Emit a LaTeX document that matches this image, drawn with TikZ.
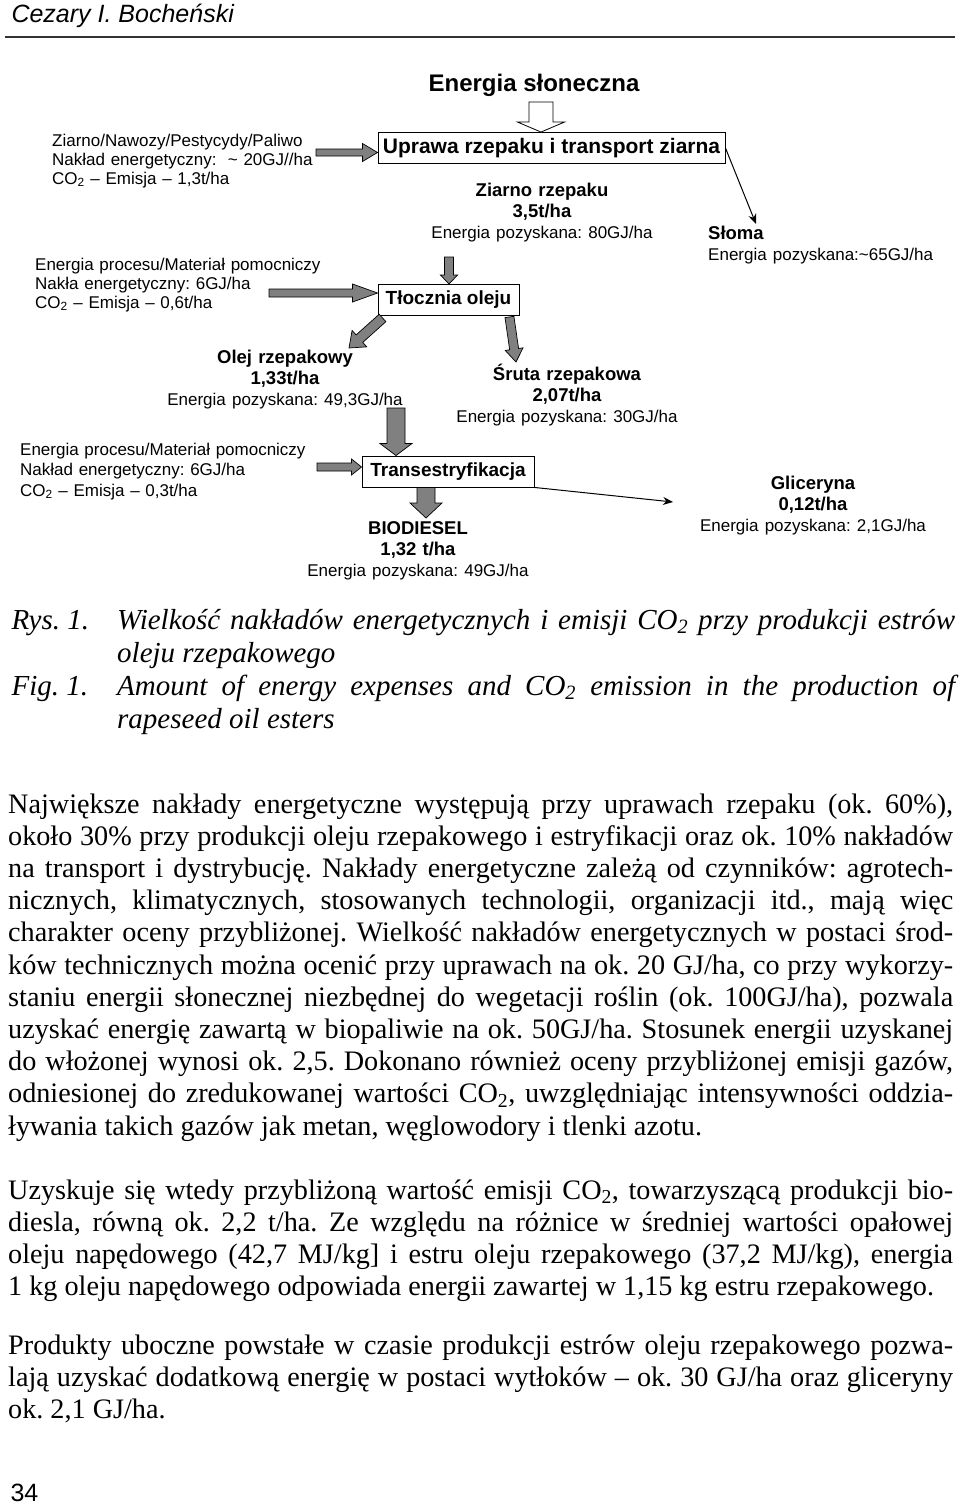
\documentclass[tikz,border=0pt]{standalone}
\usepackage{fontspec}
\setmainfont{Liberation Serif}
\newfontfamily\arial{Liberation Sans}
\usetikzlibrary{calc}
\usetikzlibrary{arrows.meta}
\frenchspacing

% grube strzalki: [styl]{od}{do}{pol szerokosci trzonu}{pol szerokosci grotu}{dlugosc grotu}
\newcommand{\fatarrow}[6][fatarr]{%
  \coordinate (fahead) at ($(#3)!#6!(#2)$);
  \filldraw[#1] ($(#2)!#4!90:(#3)$) -- ($(fahead)!#4!90:(#3)$) -- ($(fahead)!#5!90:(#3)$) -- (#3)
    -- ($(fahead)!#5!-90:(#3)$) -- ($(fahead)!#4!-90:(#3)$) -- ($(#2)!#4!-90:(#3)$) -- cycle;}
\newcommand{\zwykly}{\mdseries\fontsize{17}{21}\selectfont}

\tikzset{
  fatarr/.style={fill=gray, draw=black, line width=0.7pt},
  hollowarr/.style={fill=white, draw=black, line width=0.8pt},
  thinarr/.style={draw=black, line width=1pt, -{Stealth[length=10pt,width=8pt]}},
  skrzynka/.style={draw=black, line width=0.9pt, inner xsep=2pt, inner ysep=0pt, minimum height=31pt,
    font=\arial\bfseries\fontsize{19}{21}\selectfont},
  opis/.style={anchor=base west, align=left, text width=#1, inner sep=0pt, font=\arial\fontsize{17}{19}\selectfont},
  etykieta/.style={anchor=base, align=center, text width=#1, inner sep=0pt,
    font=\arial\bfseries\fontsize{18.5}{21}\selectfont},
  akapit/.style={anchor=base west, align=justify, text width=945pt, inner sep=0pt, font=\fontsize{28.2}{32.2}\selectfont},
  podpis/.style={anchor=base west, align=justify, text width=838pt, inner sep=0pt, font=\itshape\fontsize{29}{33}\selectfont},
}

\begin{document}
\begin{tikzpicture}[x=1pt,y=-1pt]
  \useasboundingbox (0,0) rectangle (960,1504);

  % naglowek strony
  \node[anchor=base west, font=\arial\itshape\fontsize{25}{25}\selectfont] (autor) at (8,23) {Cezary I. Bocheński};
  \draw[line width=1.3pt, black!80] (5,37) -- (955,37);

  % uprawa
  \node[anchor=base, font=\arial\bfseries\fontsize{24}{24}\selectfont] (slonce) at (534,91.6) {Energia słoneczna};
  \node[skrzynka, minimum width=347pt, font=\arial\bfseries\fontsize{21}{23}\selectfont] (uprawa) at (551.5,148) {Uprawa rzepaku i transport ziarna};
  \node[opis=300pt] (nakladA) at (52,146) {Ziarno/Nawozy/Pestycydy/Paliwo\\Nakład energetyczny:\ \ \textasciitilde{} 20GJ//ha\\CO\textsubscript{2} – Emisja – 1,3t/ha};
  \node[etykieta=260pt] (ziarno) at (542,196.6) {Ziarno rzepaku\\3,5t/ha\\{\zwykly Energia pozyskana: 80GJ/ha}};
  \node[etykieta=240pt, anchor=base west, align=left] (sloma) at (708,239.6) {Słoma\\{\zwykly Energia pozyskana:\textasciitilde65GJ/ha}};

  % tloczenie
  \node[skrzynka, minimum width=141pt] (tlocznia) at (448.5,300) {Tłocznia oleju};
  \node[opis=330pt] (nakladB) at (35,270) {Energia procesu/Materiał pomocniczy\\Nakła energetyczny: 6GJ/ha\\CO\textsubscript{2} – Emisja – 0,6t/ha};
  \node[etykieta=280pt] (olej) at (285,363.6) {Olej rzepakowy\\1,33t/ha\\{\zwykly Energia pozyskana: 49,3GJ/ha}};
  \node[etykieta=260pt] (sruta) at (567,380.6) {Śruta rzepakowa\\2,07t/ha\\{\zwykly Energia pozyskana: 30GJ/ha}};

  % estryfikacja
  \node[skrzynka, minimum width=172pt] (trans) at (448,471.5) {Transestryfikacja};
  \node[opis=330pt, font=\arial\fontsize{17}{20.5}\selectfont] (nakladC) at (20,455) {Energia procesu/Materiał pomocniczy\\Nakład energetyczny: 6GJ/ha\\CO\textsubscript{2} – Emisja – 0,3t/ha};
  \node[etykieta=260pt] (biodiesel) at (418,534.6) {BIODIESEL\\1,32 t/ha\\{\zwykly Energia pozyskana: 49GJ/ha}};
  \node[etykieta=260pt] (gliceryna) at (813,489.6) {Gliceryna\\0,12t/ha\\{\zwykly Energia pozyskana: 2,1GJ/ha}};

  % strzalki
  \coordinate (sunfoot) at (541,102);
  \fatarrow[hollowarr]{sunfoot}{sunfoot |- uprawa.north}{12pt}{23.5pt}{10pt}
  \coordinate (inA) at (316,152.5);
  \fatarrow{inA}{inA -| uprawa.west}{3.5pt}{9pt}{15pt}
  \coordinate (ziarnofoot) at (449,257);
  \fatarrow{ziarnofoot}{ziarnofoot |- tlocznia.north}{4.5pt}{8.5pt}{9pt}
  \coordinate (inB) at (269,293);
  \fatarrow{inB}{inB -| tlocznia.west}{4pt}{9pt}{25pt}
  \coordinate (tlA) at ($(tlocznia.south west)+(5,2)$);
  \coordinate (olejtip) at (349,348);
  \fatarrow{tlA}{olejtip}{5pt}{11pt}{14pt}
  \coordinate (tlB) at ($(tlocznia.south east)+(-10,1)$);
  \coordinate (srutatip) at (516,362);
  \fatarrow{tlB}{srutatip}{4.5pt}{9pt}{13pt}
  \coordinate (olejfoot) at (396,408);
  \fatarrow{olejfoot}{olejfoot |- trans.north}{9pt}{16pt}{12pt}
  \coordinate (inC) at (317,467);
  \fatarrow{inC}{inC -| trans.west}{4pt}{8pt}{10pt}
  \coordinate (biotip) at (426,518);
  \coordinate (transfoot) at (biotip |- trans.south);
  \fatarrow{transfoot}{biotip}{9pt}{16pt}{15pt}
  \coordinate (slomatip) at (756,224);
  \draw[thinarr] (uprawa.east) -- (slomatip);
  \coordinate (glictip) at (673,502);
  \draw[thinarr] (trans.south east) -- (glictip);

  % podpis rysunku
  \node[anchor=base west, font=\itshape\fontsize{29}{33}\selectfont] (rys) at (8,629) {Rys. 1.};
  \node[podpis] (rysopis) at (117,629) {Wielkość nakładów energetycznych i emisji CO\textsubscript{2} przy produkcji estrów\linebreak oleju rzepakowego};
  \node[anchor=base west, font=\itshape\fontsize{29}{33}\selectfont] (fig) at (8,695) {Fig. 1.};
  \node[podpis] (figopis) at (117,695) {Amount of energy expenses and CO\textsubscript{2} emission in the production of\linebreak rapeseed oil esters};

  % tekst
  \node[akapit] (tekstA) at (8,813) {Największe nakłady energetyczne występują przy uprawach rzepaku (ok. 60\%),\linebreak
    około 30\% przy produkcji oleju rzepakowego i estryfikacji oraz ok. 10\% nakładów\linebreak
    na transport i dystrybucję. Nakłady energetyczne zależą od czynników: agrotech-\linebreak
    nicznych, klimatycznych, stosowanych technologii, organizacji itd., mają więc\linebreak
    charakter oceny przybliżonej. Wielkość nakładów energetycznych w postaci środ-\linebreak
    ków technicznych można ocenić przy uprawach na ok. 20 GJ/ha, co przy wykorzy-\linebreak
    staniu energii słonecznej niezbędnej do wegetacji roślin (ok. 100GJ/ha), pozwala\linebreak
    uzyskać energię zawartą w biopaliwie na ok. 50GJ/ha. Stosunek energii uzyskanej\linebreak
    do włożonej wynosi ok. 2,5. Dokonano również oceny przybliżonej emisji gazów,\linebreak
    odniesionej do zredukowanej wartości CO\textsubscript{2}, uwzględniając intensywności oddzia-\linebreak
    ływania takich gazów jak metan, węglowodory i tlenki azotu.};
  \node[akapit] (tekstB) at (8,1199) {Uzyskuje się wtedy przybliżoną wartość emisji CO\textsubscript{2}, towarzyszącą produkcji bio-\linebreak
    diesla, równą ok. 2,2 t/ha. Ze względu na różnice w średniej wartości opałowej\linebreak
    oleju napędowego (42,7 MJ/kg] i estru oleju rzepakowego (37,2 MJ/kg), energia\linebreak
    1 kg oleju napędowego odpowiada energii zawartej w 1,15 kg estru rzepakowego.};
  \node[akapit] (tekstC) at (8,1354) {Produkty uboczne powstałe w czasie produkcji estrów oleju rzepakowego pozwa-\linebreak
    lają uzyskać dodatkową energię w postaci wytłoków – ok. 30 GJ/ha oraz gliceryny\linebreak
    ok. 2,1 GJ/ha.};

  \node[anchor=base west, font=\arial\fontsize{25}{25}\selectfont] (strona) at (7,1501) {34};
\end{tikzpicture}
\end{document}
